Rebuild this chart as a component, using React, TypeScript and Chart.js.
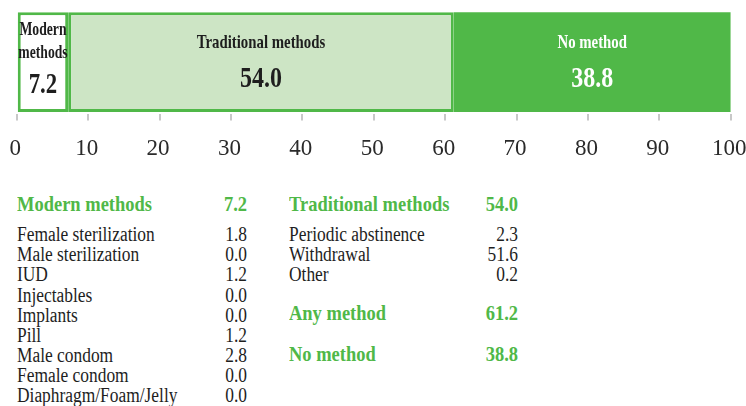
import React, { useEffect, useRef } from 'react';
import { Chart, registerables } from 'chart.js';

Chart.register(...registerables);

// ---- data ----
const barCategories = ['Modern methods', 'Traditional methods', 'No method'];
const barTitleLines = [['Modern', 'methods'], ['Traditional methods'], ['No method']];
const barValues = [7.2, 54.0, 38.8];
const axisMin = 0;
const axisMax = 100;
const axisStep = 10;

const modernHeading = 'Modern methods';
const modernTotal = 7.2;
const modernLabels = [
  'Female sterilization',
  'Male sterilization',
  'IUD',
  'Injectables',
  'Implants',
  'Pill',
  'Male condom',
  'Female condom',
  'Diaphragm/Foam/Jelly',
];
const modernValues = [1.8, 0.0, 1.2, 0.0, 0.0, 1.2, 2.8, 0.0, 0.0];

const traditionalHeading = 'Traditional methods';
const traditionalTotal = 54.0;
const traditionalLabels = ['Periodic abstinence', 'Withdrawal', 'Other'];
const traditionalValues = [2.3, 51.6, 0.2];

const summaryLabels = ['Any method', 'No method'];
const summaryValues = [61.2, 38.8];

// ---- styles ----
const GREEN = '#50b848';
const LIGHT_GREEN = '#cde5c5';
const DARK = '#1e1e1e';
const SERIF = "'Liberation Serif', 'Times New Roman', serif";

const barFills = ['#ffffff', LIGHT_GREEN, GREEN];
const barBorders = [GREEN, GREEN, GREEN];
const barBorderWidths = [3, 3, 0];
const barTextColors = [DARK, DARK, '#ffffff'];

const barLabelPlugin = {
  id: 'barLabels',
  afterDatasetsDraw(chart: any) {
    const ctx = chart.ctx as CanvasRenderingContext2D;
    chart.data.datasets.forEach((ds: any, i: number) => {
      const el = chart.getDatasetMeta(i).data[0];
      if (!el) return;
      const p = el.getProps(['x', 'y', 'base', 'height'], true);
      const cx = (p.x + p.base) / 2;
      const top = p.y - p.height / 2;
      const lines = barTitleLines[i];
      const draw = (text: string, y: number, font: string, sx: number) => {
        ctx.save();
        ctx.translate(cx, y);
        ctx.scale(sx, 1);
        ctx.font = font;
        ctx.fillStyle = barTextColors[i];
        ctx.textAlign = 'center';
        ctx.textBaseline = 'alphabetic';
        ctx.fillText(text, 0, 0);
        ctx.restore();
      };
      if (lines.length === 2) {
        draw(lines[0], top + 22.7, `bold 18px ${SERIF}`, 0.76);
        draw(lines[1], top + 45.7, `bold 18px ${SERIF}`, 0.76);
        draw(ds.data[0].toFixed(1), top + 80.7, `bold 30px ${SERIF}`, 0.76);
      } else {
        draw(lines[0], top + 35.7, `bold 19px ${SERIF}`, 0.78);
        draw(ds.data[0].toFixed(1), top + 74.7, `bold 30px ${SERIF}`, 0.8);
      }
    });
  },
};

type TxtProps = {
  x: number;
  baseline: number;
  size: number;
  bold?: boolean;
  color: string;
  align?: 'left' | 'right';
  sx: number;
  children: React.ReactNode;
};

function Txt({ x, baseline, size, bold, color, align = 'left', sx, children }: TxtProps) {
  const top = baseline - 0.8375 * size;
  const common: React.CSSProperties = {
    position: 'absolute',
    top,
    fontFamily: SERIF,
    fontSize: size,
    lineHeight: `${size}px`,
    fontWeight: bold ? 700 : 400,
    color,
    whiteSpace: 'nowrap',
    transform: `scaleX(${sx})`,
  };
  if (align === 'right') {
    return (
      <div style={{ ...common, left: x - 300, width: 300, textAlign: 'right', transformOrigin: 'right center' }}>
        {children}
      </div>
    );
  }
  return <div style={{ ...common, left: x, transformOrigin: 'left center' }}>{children}</div>;
}

export default function App() {
  const canvasRef = useRef<HTMLCanvasElement | null>(null);

  useEffect(() => {
    if (!canvasRef.current) return;
    const chart = new Chart(canvasRef.current, {
      type: 'bar',
      data: {
        labels: [''],
        datasets: barCategories.map((name, i) => ({
          label: name,
          data: [barValues[i]],
          backgroundColor: barFills[i],
          borderColor: barBorders[i],
          borderWidth: barBorderWidths[i],
          borderSkipped: false,
          categoryPercentage: 1,
          barPercentage: 0.955,
        })),
      },
      options: {
        indexAxis: 'y',
        animation: false,
        responsive: true,
        maintainAspectRatio: false,
        events: [],
        layout: { padding: { left: 0, right: 0, top: 10, bottom: 0 } },
        plugins: { legend: { display: false }, tooltip: { enabled: false } },
        scales: {
          x: {
            stacked: true,
            min: axisMin,
            max: axisMax,
            border: { display: false },
            grid: {
              drawOnChartArea: false,
              drawTicks: true,
              tickLength: 6,
              color: '#c8c8c8',
              lineWidth: 2,
            },
            ticks: {
              stepSize: axisStep,
              padding: 15,
              labelOffset: -1.5,
              color: '#2a2a2a',
              font: { family: SERIF, size: 23 },
              maxRotation: 0,
              autoSkip: false,
            },
          },
          y: { stacked: true, display: false },
        },
      },
      plugins: [barLabelPlugin],
    });
    return () => chart.destroy();
  }, []);

  const rowStart = 241;
  const rowStep = 20.1;
  const headBase = 211;
  const leftX = 17;
  const leftValX = 247;
  const rightX = 289;
  const rightValX = 518;

  return (
    <div style={{ position: 'fixed', left: 0, top: 0, width: 746, height: 406, overflow: 'hidden', background: '#fff' }}>
      <div style={{ position: 'absolute', left: -4, top: 0, width: 767, height: 178 }}>
        <canvas ref={canvasRef} />
      </div>

      <Txt x={leftX} baseline={headBase} size={22} bold color={GREEN} sx={0.84}>{modernHeading}</Txt>
      <Txt x={leftValX} baseline={headBase} size={22} bold color={GREEN} sx={0.84} align="right">{modernTotal.toFixed(1)}</Txt>
      {modernLabels.map((l, i) => (
        <React.Fragment key={'m' + i}>
          <Txt x={leftX} baseline={rowStart + i * rowStep} size={20} color={DARK} sx={0.87}>{l}</Txt>
          <Txt x={leftValX} baseline={rowStart + i * rowStep} size={20} color={DARK} sx={0.87} align="right">{modernValues[i].toFixed(1)}</Txt>
        </React.Fragment>
      ))}

      <Txt x={rightX} baseline={headBase} size={22} bold color={GREEN} sx={0.84}>{traditionalHeading}</Txt>
      <Txt x={rightValX} baseline={headBase} size={22} bold color={GREEN} sx={0.84} align="right">{traditionalTotal.toFixed(1)}</Txt>
      {traditionalLabels.map((l, i) => (
        <React.Fragment key={'t' + i}>
          <Txt x={rightX} baseline={rowStart + i * rowStep} size={20} color={DARK} sx={0.87}>{l}</Txt>
          <Txt x={rightValX} baseline={rowStart + i * rowStep} size={20} color={DARK} sx={0.87} align="right">{traditionalValues[i].toFixed(1)}</Txt>
        </React.Fragment>
      ))}
      {summaryLabels.map((l, i) => (
        <React.Fragment key={'s' + i}>
          <Txt x={rightX} baseline={rowStart + (4 + i * 2) * rowStep - 0.5} size={22} bold color={GREEN} sx={0.84}>{l}</Txt>
          <Txt x={rightValX} baseline={rowStart + (4 + i * 2) * rowStep - 0.5} size={22} bold color={GREEN} sx={0.84} align="right">{summaryValues[i].toFixed(1)}</Txt>
        </React.Fragment>
      ))}
    </div>
  );
}
